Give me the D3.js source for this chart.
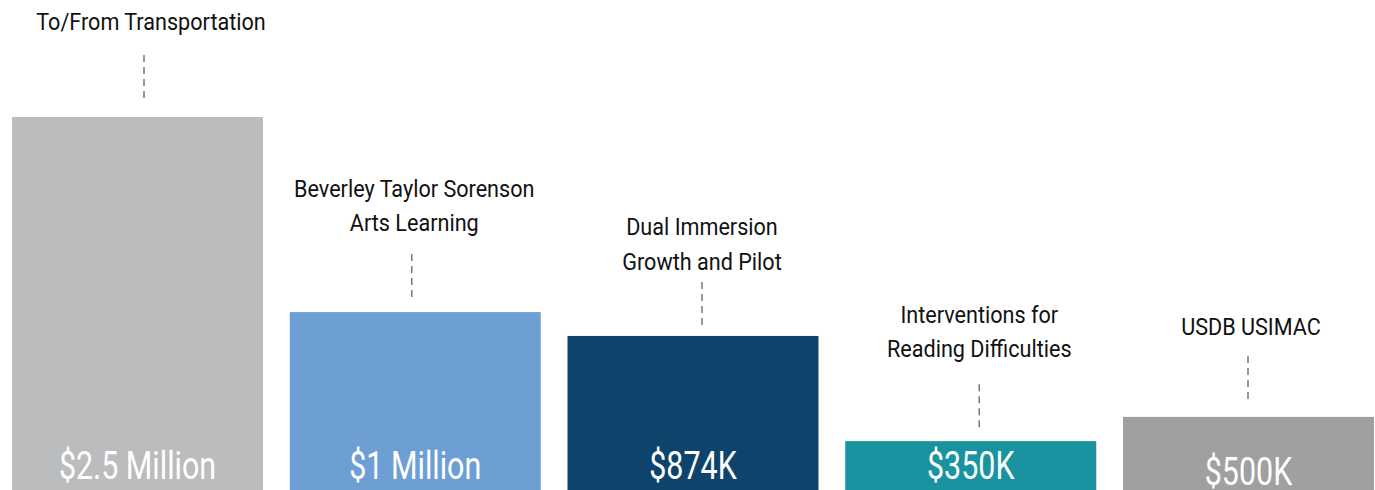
<html>
<head>
<meta charset="utf-8">
<script src="https://d3js.org/d3.v7.min.js"></script>
<style>
    body { margin: 0; background: #fff; }
    text { font-family: Roboto, 'Noto Sans', sans-serif; }
    .cat { fill: #111; font-size: 24px; }
    .val { fill: #fff; font-size: 39px; }
    .lead { stroke: #777; stroke-width: 1.5; stroke-dasharray: 7 5; }
</style>
</head>
<body>
<div id="chart"></div>
<script>
    // data
    var categories = ["To/From Transportation", "Beverley Taylor Sorenson Arts Learning",
        "Dual Immersion Growth and Pilot", "Interventions for Reading Difficulties", "USDB USIMAC"];
    var labelLines = [["To/From Transportation"], ["Beverley Taylor Sorenson", "Arts Learning"],
        ["Dual Immersion", "Growth and Pilot"], ["Interventions for", "Reading Difficulties"], ["USDB USIMAC"]];
    var amountLabels = ["$2.5 Million", "$1 Million", "$874K", "$350K", "$500K"];
    // bar heights as drawn, % of tallest bar (not proportional to the amounts)
    var barLevels = [100, 47.7, 41.3, 13.1, 19.6];
    var colors = ["#bbbcbe", "#6d9fd4", "#0e446c", "#1a93a0", "#a0a0a0"];

    var width = 1375, height = 490;

    // layout tweaks per bar
    var labelDx = [13.5, -1, 9, 8.5, 2.5];
    var dashDx = [6.5, -3.5, 9, 8.5, -0.5];
    var dashGap = [15, 11, 7, 10, 14];     // dash bottom above bar top
    var textGap = [25, 23, 12, 27, 21];    // last baseline above dash top
    var valueBase = [479, 479, 479, 479, 485];
    var dashLen = 47, lineH = 34.5;
    var catSx = 0.9, valSx = 0.78;         // fake a condensed face

    var svg = d3.select("#chart").append("svg")
        .attr("width", width)
        .attr("height", height);

    var x = d3.scaleBand().domain(categories).range([12, 1374]).paddingInner(0.0963).paddingOuter(0);
    var y = d3.scaleLinear().domain([0, 100]).range([height, 117]);

    var g = svg.selectAll("g.bar")
        .data(categories)
        .enter()
        .append("g")
        .attr("class", "bar");

    g.append("rect")
        .attr("x", d => x(d))
        .attr("y", (d, i) => y(barLevels[i]))
        .attr("width", x.bandwidth())
        .attr("height", (d, i) => height - y(barLevels[i]))
        .attr("fill", (d, i) => colors[i]);

    g.append("text")
        .attr("class", "val")
        .attr("text-anchor", "middle")
        .attr("transform", (d, i) => "translate(" + (x(d) + x.bandwidth() / 2) + "," + valueBase[i] + ") scale(" + valSx + ",1)")
        .text((d, i) => amountLabels[i]);

    g.append("line")
        .attr("class", "lead")
        .attr("x1", (d, i) => x(d) + x.bandwidth() / 2 + dashDx[i])
        .attr("x2", (d, i) => x(d) + x.bandwidth() / 2 + dashDx[i])
        .attr("y1", (d, i) => y(barLevels[i]) - dashGap[i] - dashLen)
        .attr("y2", (d, i) => y(barLevels[i]) - dashGap[i]);

    g.each(function (d, i) {
        var lines = labelLines[i];
        var last = y(barLevels[i]) - dashGap[i] - dashLen - textGap[i];
        var t = d3.select(this).append("text")
            .attr("class", "cat")
            .attr("text-anchor", "middle")
            .attr("transform", "translate(" + (x(d) + x.bandwidth() / 2 + labelDx[i]) + "," + last + ") scale(" + catSx + ",1)");
        lines.forEach(function (l, j) {
            t.append("tspan")
                .attr("x", 0)
                .attr("y", -(lines.length - 1 - j) * lineH)
                .text(l);
        });
    });
</script>
</body>
</html>
